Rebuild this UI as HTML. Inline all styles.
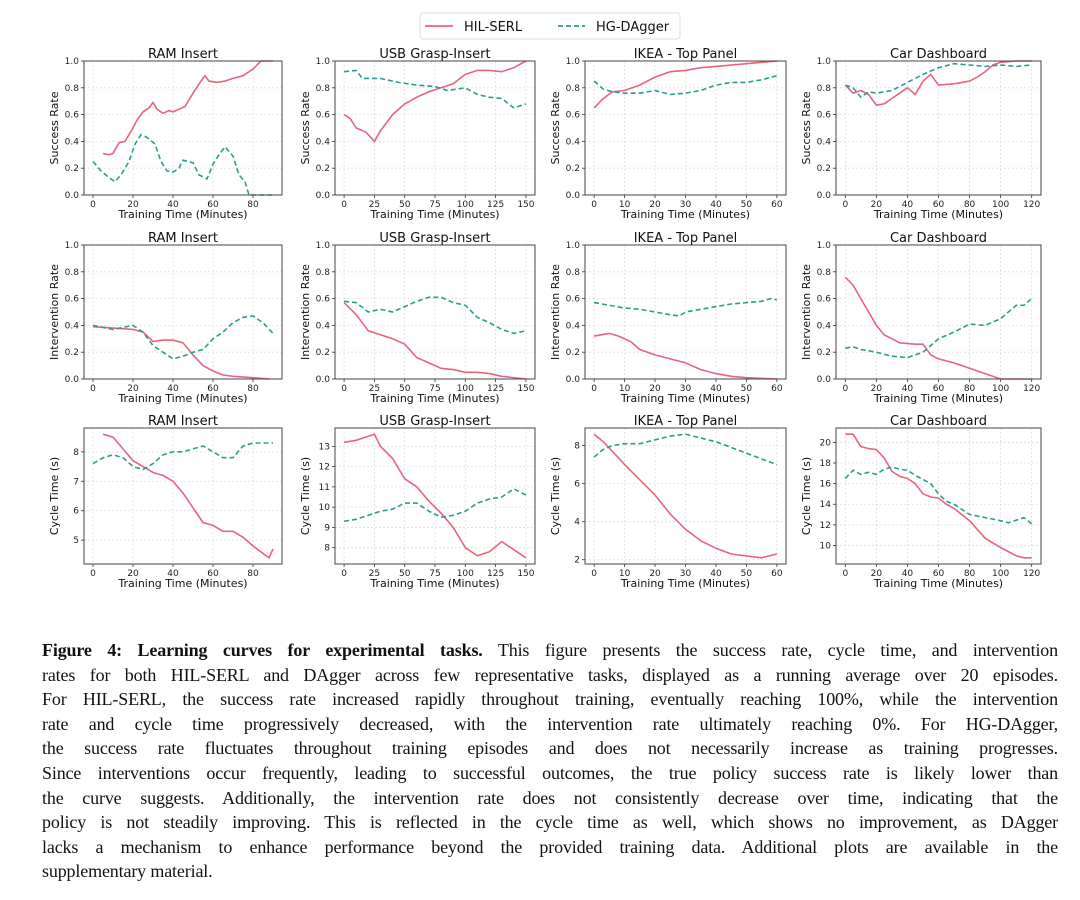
<!DOCTYPE html>
<html><head><meta charset="utf-8">
<style>
body{margin:0;background:#fff;width:1080px;height:900px;overflow:hidden;font-family:"DejaVu Sans","Liberation Sans",sans-serif}
#fig{position:absolute;left:0;top:0}
#caption{position:absolute;left:42px;top:638px;width:1016px;font-family:"Liberation Serif",serif;font-size:18px;letter-spacing:-0.15px;line-height:24.6px;color:#111}
#caption div{text-align:justify;text-align-last:justify;white-space:nowrap;height:24.6px}
#caption div.last{text-align-last:left}
</style></head><body>
<svg id="fig" width="1080" height="620"></svg>
<div id="caption">
<div><b>Figure 4: Learning curves for experimental tasks.</b> This figure presents the success rate, cycle time, and intervention</div>
<div>rates for both HIL-SERL and DAgger across few representative tasks, displayed as a running average over 20 episodes.</div>
<div>For HIL-SERL, the success rate increased rapidly throughout training, eventually reaching 100%, while the intervention</div>
<div>rate and cycle time progressively decreased, with the intervention rate ultimately reaching 0%. For HG-DAgger,</div>
<div>the success rate fluctuates throughout training episodes and does not necessarily increase as training progresses.</div>
<div>Since interventions occur frequently, leading to successful outcomes, the true policy success rate is likely lower than</div>
<div>the curve suggests. Additionally, the intervention rate does not consistently decrease over time, indicating that the</div>
<div>policy is not steadily improving. This is reflected in the cycle time as well, which shows no improvement, as DAgger</div>
<div>lacks a mechanism to enhance performance beyond the provided training data. Additional plots are available in the</div>
<div class="last">supplementary material.</div>
</div>
<script>
const taskTitles=["RAM Insert","USB Grasp-Insert","IKEA - Top Panel","Car Dashboard"];
const rowLabels=["Success Rate","Intervention Rate","Cycle Time (s)"];
const xTicksRam=[0,20,40,60,80];
const xTicksUsb=[0,25,50,75,100,125,150];
const xTicksIkea=[0,10,20,30,40,50,60];
const xTicksCar=[0,20,40,60,80,100,120];
const yTicksRate=[0,0.2,0.4,0.6,0.8,1.0];
const yTicksCycRam=[5,6,7,8];
const yTicksCycUsb=[8,9,10,11,12,13];
const yTicksCycIkea=[2,4,6,8];
const yTicksCycCar=[10,12,14,16,18,20];

const hilSuccRam=[[5,.31],[8,.3],[10,.31],[13,.39],[16,.4],[20,.5],[22,.56],[25,.62],[28,.65],[30,.69],[32,.64],[35,.61],[38,.63],[40,.62],[43,.64],[46,.66],[50,.76],[54,.85],[56,.89],[58,.85],[62,.84],[66,.85],[70,.87],[75,.89],[80,.94],[84,1],[90,1]];
const dagSuccRam=[[0,.25],[4,.18],[8,.13],[11,.1],[14,.15],[18,.25],[21,.38],[24,.45],[27,.43],[31,.38],[34,.25],[37,.18],[40,.17],[43,.2],[45,.26],[50,.24],[53,.15],[57,.12],[60,.23],[63,.3],[66,.36],[70,.29],[73,.15],[76,.1],[78,0],[90,0]];
const hilSuccUsb=[[0,.6],[5,.57],[10,.5],[18,.47],[25,.4],[30,.48],[40,.6],[50,.68],[60,.73],[70,.77],[80,.8],[90,.83],[100,.9],[110,.93],[120,.93],[130,.92],[140,.95],[150,1]];
const dagSuccUsb=[[0,.92],[10,.93],[15,.87],[30,.87],[45,.84],[60,.82],[75,.81],[85,.78],[100,.8],[110,.75],[120,.73],[130,.72],[140,.65],[150,.68]];
const hilSuccIkea=[[0,.65],[3,.72],[6,.77],[10,.78],[15,.82],[20,.88],[25,.92],[30,.93],[35,.95],[40,.96],[50,.98],[55,.99],[60,1]];
const dagSuccIkea=[[0,.85],[3,.79],[6,.77],[10,.76],[15,.76],[20,.78],[25,.75],[30,.76],[35,.78],[40,.82],[45,.84],[50,.84],[55,.86],[60,.89]];
const hilSuccCar=[[0,.82],[5,.76],[10,.78],[15,.75],[20,.67],[25,.68],[30,.72],[40,.8],[45,.75],[50,.85],[55,.9],[60,.82],[70,.83],[80,.85],[85,.88],[90,.92],[95,.97],[100,.99],[110,1],[120,1]];
const dagSuccCar=[[0,.82],[5,.8],[10,.73],[15,.77],[20,.76],[30,.78],[40,.84],[50,.9],[60,.95],[70,.98],[80,.97],[90,.96],[100,.97],[110,.96],[120,.97]];

const hilIntRam=[[0,.39],[10,.38],[20,.37],[25,.35],[30,.28],[35,.29],[40,.29],[45,.27],[50,.18],[55,.1],[60,.06],[65,.03],[70,.02],[80,.01],[88,0]];
const dagIntRam=[[0,.4],[10,.37],[20,.4],[25,.35],[30,.25],[35,.2],[40,.15],[45,.17],[50,.2],[55,.22],[60,.3],[65,.35],[70,.42],[75,.46],[80,.47],[85,.42],[90,.34]];
const hilIntUsb=[[0,.57],[10,.48],[20,.36],[30,.33],[40,.3],[50,.26],[60,.16],[70,.12],[80,.08],[90,.07],[100,.05],[110,.05],[120,.04],[130,.02],[150,0]];
const dagIntUsb=[[0,.58],[10,.57],[20,.5],[30,.52],[40,.5],[50,.54],[60,.58],[70,.61],[80,.61],[90,.57],[100,.55],[110,.46],[120,.42],[130,.37],[140,.34],[150,.36]];
const hilIntIkea=[[0,.32],[5,.34],[8,.32],[12,.28],[15,.22],[20,.18],[25,.15],[30,.12],[35,.07],[40,.04],[45,.02],[50,.01],[60,0]];
const dagIntIkea=[[0,.57],[5,.55],[10,.53],[15,.52],[20,.5],[25,.48],[28,.47],[30,.5],[35,.52],[40,.54],[45,.56],[50,.57],[55,.58],[58,.6],[60,.59]];
const hilIntCar=[[0,.76],[5,.7],[10,.6],[15,.5],[20,.4],[25,.33],[30,.3],[35,.27],[45,.26],[50,.26],[55,.18],[60,.15],[70,.12],[80,.08],[90,.04],[100,0],[120,0]];
const dagIntCar=[[0,.23],[5,.24],[10,.22],[20,.2],[30,.17],[40,.16],[50,.2],[60,.3],[70,.35],[80,.41],[90,.4],[100,.45],[110,.55],[115,.55],[120,.6]];

const hilCycRam=[[5,8.6],[10,8.5],[15,8.1],[20,7.7],[25,7.5],[30,7.3],[35,7.2],[40,7.0],[45,6.6],[50,6.1],[55,5.6],[60,5.5],[65,5.3],[70,5.3],[75,5.1],[80,4.8],[88,4.4],[90,4.7]];
const dagCycRam=[[0,7.6],[5,7.8],[10,7.9],[15,7.8],[20,7.5],[25,7.4],[30,7.6],[35,7.9],[40,8.0],[45,8.0],[50,8.1],[55,8.2],[60,8.0],[65,7.8],[70,7.8],[75,8.2],[80,8.3],[90,8.3]];
const hilCycUsb=[[0,13.2],[10,13.3],[20,13.5],[25,13.6],[30,13.0],[40,12.4],[50,11.4],[60,11.0],[70,10.3],[80,9.7],[90,9.0],[100,8.0],[110,7.6],[120,7.8],[130,8.3],[140,7.9],[150,7.5]];
const dagCycUsb=[[0,9.3],[10,9.4],[20,9.6],[30,9.8],[40,9.9],[50,10.2],[60,10.2],[70,9.8],[80,9.5],[90,9.6],[100,9.8],[110,10.2],[120,10.4],[130,10.5],[140,10.9],[150,10.6]];
const hilCycIkea=[[0,8.6],[3,8.2],[6,7.7],[10,7.0],[15,6.2],[20,5.4],[25,4.4],[30,3.6],[35,3.0],[40,2.6],[45,2.3],[50,2.2],[55,2.1],[60,2.3]];
const dagCycIkea=[[0,7.4],[3,7.8],[6,8.0],[10,8.1],[15,8.1],[20,8.3],[25,8.5],[30,8.6],[35,8.4],[40,8.2],[45,7.9],[50,7.6],[55,7.3],[60,7.0]];
const hilCycCar=[[0,20.8],[5,20.8],[10,19.6],[15,19.4],[20,19.3],[25,18.5],[30,17.2],[35,16.7],[40,16.5],[45,16],[50,15],[55,14.7],[60,14.6],[65,14.0],[70,13.6],[80,12.4],[90,10.7],[100,9.8],[110,9.0],[115,8.8],[120,8.8]];
const dagCycCar=[[0,16.5],[5,17.3],[10,16.9],[15,17.1],[20,16.9],[25,17.4],[30,17.6],[35,17.4],[40,17.3],[45,16.8],[50,16.4],[55,16.0],[60,15.0],[65,14.3],[70,14.0],[75,13.5],[80,13.0],[90,12.7],[100,12.4],[105,12.2],[115,12.7],[120,12.1]];

const NS="http://www.w3.org/2000/svg";
const svg=document.getElementById('fig');
const HIL="#e8647e",DAG="#2a9d8f";
function mk(tag,attrs,parent){const e=document.createElementNS(NS,tag);for(const k in attrs)e.setAttribute(k,attrs[k]);(parent||svg).appendChild(e);return e;}

const colX=[[84,282],[335,535],[585,786],[836,1041]];
const rowY=[[61,195],[245,379],[428,564]];
const xTicksAll=[xTicksRam,xTicksUsb,xTicksIkea,xTicksCar];
const xMaxAll=[90,150,60,120];
const hilAll=[[hilSuccRam,hilSuccUsb,hilSuccIkea,hilSuccCar],[hilIntRam,hilIntUsb,hilIntIkea,hilIntCar],[hilCycRam,hilCycUsb,hilCycIkea,hilCycCar]];
const dagAll=[[dagSuccRam,dagSuccUsb,dagSuccIkea,dagSuccCar],[dagIntRam,dagIntUsb,dagIntIkea,dagIntCar],[dagCycRam,dagCycUsb,dagCycIkea,dagCycCar]];
const cycTicks=[yTicksCycRam,yTicksCycUsb,yTicksCycIkea,yTicksCycCar];

for(let r=0;r<3;r++)for(let c=0;c<4;c++){
  const [x0,x1]=colX[c],[y0,y1]=rowY[r];
  const g=mk('g',{});
  
  
  const hil=hilAll[r][c],dag=dagAll[r][c];
  const xmax=xMaxAll[c];const xlo=-0.05*xmax,xhi=xmax*1.05;
  let ylo,yhi,yt;
  if(r<2){ylo=0;yhi=1;yt=yTicksRate;}
  else{const all=hil.concat(dag).map(p=>p[1]);const mn=Math.min(...all),mx=Math.max(...all),pd=(mx-mn)*0.05;ylo=mn-pd;yhi=mx+pd;yt=cycTicks[c];}
  const sx=v=>x0+(v-xlo)/(xhi-xlo)*(x1-x0);
  const sy=v=>y1-(v-ylo)/(yhi-ylo)*(y1-y0);
  xTicksAll[c].forEach(t=>{const X=sx(t);mk('line',{x1:X,x2:X,y1:y0,y2:y1,stroke:'#ddd','stroke-width':0.8,'stroke-dasharray':'2,2'},g);
    mk('line',{x1:X,x2:X,y1:y1,y2:y1+3,stroke:'#333','stroke-width':0.8},g);
    const t2=mk('text',{x:X,y:y1+12,'font-size':9,'text-anchor':'middle',fill:'#222'},g);t2.textContent=t;});
  yt.forEach(t=>{const Y=sy(t);mk('line',{x1:x0,x2:x1,y1:Y,y2:Y,stroke:'#ddd','stroke-width':0.8,'stroke-dasharray':'2,2'},g);
    mk('line',{x1:x0-3,x2:x0,y1:Y,y2:Y,stroke:'#333','stroke-width':0.8},g);
    const t2=mk('text',{x:x0-5,y:Y+3,'font-size':9,'text-anchor':'end',fill:'#222'},g);t2.textContent=r<2?t.toFixed(1):t;});
  const path=(d,col,dash,name)=>{const p=mk('path',{d:d.map((q,i)=>(i?'L':'M')+sx(q[0]).toFixed(1)+','+sy(q[1]).toFixed(1)).join(''),fill:'none',stroke:col,'stroke-width':1.6,'stroke-dasharray':dash},g);
    
    };
  path(hil,HIL,'none','hil-serl-line');
  path(dag,DAG,'5,3','hg-dagger-line');
  mk('rect',{x:x0,y:y0,width:x1-x0,height:y1-y0,fill:'none',stroke:'#444','stroke-width':1},g);
  const tt=mk('text',{x:(x0+x1)/2,y:y0-3,'font-size':13,'text-anchor':'middle',fill:'#111'},g);tt.textContent=taskTitles[c];
  const xl=mk('text',{x:(x0+x1)/2,y:y1+23,'font-size':11,'text-anchor':'middle',fill:'#111'},g);xl.textContent='Training Time (Minutes)';
  const yx=x0-26,yc=(y0+y1)/2;
  const yl=mk('text',{x:yx,y:yc,'font-size':11,'text-anchor':'middle',fill:'#111',transform:`rotate(-90 ${yx} ${yc})`},g);yl.textContent=rowLabels[r];
}
const lg=mk('g',{});


mk('rect',{x:420,y:13,width:260,height:26,rx:3,fill:'#fff',stroke:'#ddd'},lg);
mk('line',{x1:425,x2:453,y1:26,y2:26,stroke:HIL,'stroke-width':1.8},lg);
let t=mk('text',{x:464,y:31,'font-size':13,fill:'#111'},lg);t.textContent='HIL-SERL';
mk('line',{x1:558,x2:585,y1:26,y2:26,stroke:DAG,'stroke-width':1.8,'stroke-dasharray':'5,3'},lg);
t=mk('text',{x:596,y:31,'font-size':13,fill:'#111'},lg);t.textContent='HG-DAgger';
</script>
</body></html>
